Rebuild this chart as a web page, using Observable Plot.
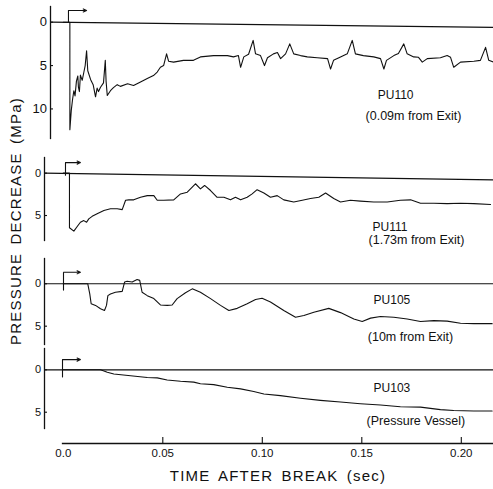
<!DOCTYPE html>
<html><head><meta charset="utf-8">
<script src="https://cdn.jsdelivr.net/npm/d3@7"></script>
<script src="https://cdn.jsdelivr.net/npm/@observablehq/plot@0.6"></script>
<style>
html,body{margin:0;padding:0;background:#fff;}
#chart{position:relative;width:493px;height:489px;overflow:hidden;font-family:"Liberation Sans",Arial,sans-serif;color:#111;}
#chart svg{position:absolute;left:0;background:transparent;}
#ytitle{position:absolute;left:15px;top:221px;transform:translate(-50%,-50%) rotate(-90deg);white-space:nowrap;font-size:15px;letter-spacing:1.2px;word-spacing:3px;color:#111;}
#xtitle{position:absolute;left:278px;top:475px;transform:translate(-50%,-50%);white-space:nowrap;font-size:15px;letter-spacing:1.2px;word-spacing:3px;color:#111;}
</style></head>
<body><div id="chart"></div>
<script>
// ---------- data (time in sec, pressure decrease in MPa) ----------
const sensorNames = ["PU110", "PU111", "PU105", "PU103"];
const sensorLocations = ["(0.09m from Exit)", "(1.73m from Exit)", "(10m from Exit)", "(Pressure Vessel)"];

const pu110Time = [0, 0.0033, 0.0033, 0.0040, 0.0046, 0.0053, 0.0059, 0.0066, 0.0073, 0.0076, 0.0081, 0.0086, 0.0095, 0.0103, 0.0110, 0.0117, 0.0123, 0.0137, 0.0150, 0.0162, 0.0170, 0.0177, 0.0187, 0.0202, 0.0211, 0.0215, 0.0221, 0.0237, 0.0252, 0.0271, 0.0287, 0.0323, 0.0353, 0.0388, 0.0422, 0.0453, 0.0472, 0.0488, 0.0504, 0.0519, 0.0529, 0.0554, 0.0604, 0.0654, 0.0689, 0.0755, 0.0825, 0.0855, 0.0880, 0.0891, 0.0907, 0.0931, 0.0954, 0.0966, 0.0991, 0.1011, 0.1026, 0.1056, 0.1076, 0.1092, 0.1117, 0.1138, 0.1158, 0.1192, 0.1226, 0.1276, 0.1328, 0.1343, 0.1358, 0.1393, 0.1427, 0.1452, 0.1468, 0.1508, 0.1560, 0.1594, 0.1611, 0.1624, 0.1661, 0.1684, 0.1711, 0.1728, 0.1761, 0.1785, 0.1804, 0.1829, 0.1895, 0.1929, 0.1946, 0.1962, 0.1996, 0.2063, 0.2096, 0.2122, 0.2138, 0.2162];
const pu110Decrease = [0, 0, 12.4, 10.2, 9.0, 7.9, 8.5, 6.8, 6.2, 7.5, 8.0, 6.1, 6.7, 5.8, 5.0, 3.3, 5.6, 6.6, 7.2, 8.6, 7.6, 8.0, 7.5, 7.0, 4.4, 6.8, 8.45, 7.9, 7.55, 7.2, 7.4, 7.1, 7.3, 6.9, 6.5, 6.15, 5.75, 5.2, 5.0, 3.65, 4.5, 4.6, 4.4, 4.4, 4.0, 3.85, 3.85, 4.0, 3.85, 5.2, 4.0, 3.7, 2.1, 3.65, 3.85, 5.0, 4.1, 3.65, 3.5, 4.2, 3.65, 2.5, 3.65, 3.85, 4.0, 4.1, 4.2, 5.4, 4.4, 4.0, 3.65, 2.1, 3.65, 3.85, 4.0, 4.2, 5.4, 4.4, 3.85, 3.6, 2.5, 3.65, 4.0, 4.05, 4.6, 4.2, 4.1, 3.85, 4.05, 5.2, 4.6, 4.5, 4.4, 2.9, 4.4, 4.6];

const pu111Time = [0, 0.0031, 0.0031, 0.0053, 0.0070, 0.0086, 0.0103, 0.0117, 0.0128, 0.0145, 0.0170, 0.0204, 0.0237, 0.0271, 0.0296, 0.0313, 0.0329, 0.0354, 0.0388, 0.0422, 0.0455, 0.0472, 0.0505, 0.0555, 0.0589, 0.0623, 0.0648, 0.0664, 0.0689, 0.0710, 0.0740, 0.0773, 0.0807, 0.0840, 0.0865, 0.0891, 0.0924, 0.0949, 0.0974, 0.1008, 0.1041, 0.1075, 0.1108, 0.1158, 0.1201, 0.1242, 0.1284, 0.1318, 0.1359, 0.1393, 0.1443, 0.1493, 0.1560, 0.1628, 0.1694, 0.1745, 0.1795, 0.1862, 0.1929, 0.1996, 0.2063, 0.2147];
const pu111Decrease = [0, 0, 6.45, 6.85, 6.3, 5.8, 5.6, 5.8, 5.4, 5.1, 4.8, 4.4, 4.2, 4.2, 4.3, 3.2, 3.15, 3.15, 2.85, 2.65, 2.65, 3.2, 3.2, 3.15, 2.45, 2.25, 1.65, 1.25, 1.85, 1.45, 2.05, 2.85, 2.85, 3.15, 2.85, 3.15, 2.85, 2.45, 1.95, 2.35, 2.85, 2.65, 3.15, 3.4, 3.2, 3.0, 2.85, 2.35, 3.0, 3.4, 3.2, 3.3, 3.4, 3.4, 3.2, 3.15, 3.55, 3.55, 3.6, 3.55, 3.6, 3.7];

const pu105Time = [0, 0.0123, 0.0133, 0.0140, 0.0162, 0.0187, 0.0207, 0.0217, 0.0224, 0.0237, 0.0262, 0.0296, 0.0308, 0.0321, 0.0346, 0.0371, 0.0384, 0.0396, 0.0422, 0.0455, 0.0488, 0.0522, 0.0547, 0.0572, 0.0614, 0.0648, 0.0689, 0.0740, 0.0790, 0.0832, 0.0874, 0.0924, 0.0966, 0.0999, 0.1041, 0.1108, 0.1167, 0.1209, 0.1259, 0.1334, 0.1393, 0.1460, 0.1502, 0.1544, 0.1594, 0.1661, 0.1728, 0.1795, 0.1862, 0.1929, 0.1996, 0.2063, 0.2155];
const pu105Decrease = [0, 0, 1.2, 2.35, 2.55, 2.95, 3.15, 2.55, 1.4, 1.2, 1.0, 0.9, -0.2, -0.3, -0.2, -0.5, -0.4, 1.0, 1.4, 1.75, 2.5, 2.55, 2.5, 1.75, 1.05, 0.6, 1.0, 1.75, 2.55, 3.15, 2.9, 2.35, 1.85, 1.7, 2.15, 3.15, 3.95, 3.75, 3.35, 2.9, 3.4, 4.15, 4.45, 4.05, 3.85, 3.95, 4.15, 4.45, 4.35, 4.4, 4.65, 4.7, 4.7];

const pu103Time = [0, 0.0187, 0.0221, 0.0254, 0.0338, 0.0422, 0.0472, 0.0522, 0.0589, 0.0656, 0.0689, 0.0756, 0.0824, 0.0891, 0.0957, 0.1008, 0.1091, 0.1192, 0.1292, 0.1393, 0.1493, 0.1594, 0.1694, 0.1795, 0.1895, 0.1962, 0.2063, 0.2155];
const pu103Decrease = [0, 0, 0.3, 0.5, 0.7, 0.9, 0.95, 1.2, 1.35, 1.45, 1.65, 1.75, 2.05, 2.25, 2.55, 2.85, 3.05, 3.35, 3.6, 3.8, 4.0, 4.15, 4.35, 4.4, 4.7, 4.8, 4.85, 4.85];

// zero-line drift at right edge of each record (MPa)
const baselineDrift = [0.6, 0.8, 0, 0];
// break marker: time, top of flag, bottom of flag, arrow tip time
const markerTime = [0.0026, 0.0011, 0.0001, -0.0004];
const markerTop = [-1.35, -1.25, -1.35, -1.2];
const markerBottom = [0, 0.3, 0.8, 0.9];
const markerArrowEnd = [0.0117, 0.0086, 0.0086, 0.0086];

const yTicksPanel1 = [0, 5, 10];
const yTicksOther = [0, 5];
const xTickValues = [0, 0.05, 0.10, 0.15, 0.20];
const xTickLabels = ["0.0", "0.05", "0.10", "0.15", "0.20"];
const xTickMarks = [0.05, 0.10, 0.15, 0.20];
const xTitle = "TIME AFTER BREAK (sec)";
const yTitle = "PRESSURE DECREASE (MPa)";

// ---------- layout ----------
const W = 493;
const X_ZERO_PX = 62.8, PX_PER_SEC = 1990;
const xDomain = ml => [(ml - X_ZERO_PX) / PX_PER_SEC, (W - X_ZERO_PX) / PX_PER_SEC];

const traces = [
  {time: pu110Time, dec: pu110Decrease},
  {time: pu111Time, dec: pu111Decrease},
  {time: pu105Time, dec: pu105Decrease},
  {time: pu103Time, dec: pu103Decrease}
];
const panels = [
  {top: 0,   height: 145, mt: 6, mb: 7,  ml: 50, yd: [-1.81, 13.41], ticks: yTicksPanel1, fs: 13,
   name: [0.158, 8.45], loc: [0.1519, 10.76]},
  {top: 150, height: 100, mt: 7, mb: 10, ml: 44, yd: [-1.85, 7.95], ticks: yTicksOther, fs: 11,
   name: [0.1554, 6.41], loc: [0.1534, 7.9]},
  {top: 252, height: 93,  mt: 6, mb: 1,  ml: 44, yd: [-2.98, 7.16], ticks: yTicksOther, fs: 11,
   name: [0.1559, 1.97], loc: [0.153, 6.33]},
  {top: 346, height: 86,  mt: 2, mb: 4,  ml: 44, yd: [-2.51, 6.92], ticks: yTicksOther, fs: 11,
   name: [0.1559, 2.2], loc: [0.1524, 5.98]}
];

const chart = document.getElementById("chart");

panels.forEach((p, i) => {
  const xd = xDomain(p.ml);
  const rows = traces[i].time.map((t, k) => ({t, d: traces[i].dec[k]}));
  const base = [{t: xd[0], d: 0}, {t: xd[1], d: baselineDrift[i]}];
  const svg = Plot.plot({
    width: W, height: p.height,
    marginTop: p.mt, marginBottom: p.mb, marginLeft: p.ml, marginRight: 0,
    style: {background: "transparent", color: "#111", fontFamily: "Liberation Sans, Arial, sans-serif", overflow: "visible"},
    x: {domain: xd, axis: null},
    y: {domain: p.yd, reverse: true, axis: null},
    marks: [
      Plot.frame({anchor: "left", stroke: "#111", strokeWidth: 1.3}),
      Plot.axisY(p.ticks, {anchor: "left", label: null, tickSize: -3, tickPadding: 6.5, fontSize: p.fs, stroke: "#111", strokeWidth: 1.1}),
      Plot.line(base, {x: "t", y: "d", stroke: "#111", strokeWidth: 1.2}),
      Plot.line(rows, {x: "t", y: "d", stroke: "#111", strokeWidth: 1.1, strokeLinejoin: "round"}),
      Plot.link([i], {x1: () => markerTime[i], x2: () => markerTime[i], y1: () => markerTop[i], y2: () => markerBottom[i], stroke: "#111", strokeWidth: 1.1}),
      Plot.arrow([i], {x1: () => markerTime[i], x2: () => markerArrowEnd[i], y1: () => markerTop[i], y2: () => markerTop[i], stroke: "#111", strokeWidth: 1.1, headLength: 5, headAngle: 50}),
      Plot.text([sensorNames[i]], {x: () => p.name[0], y: () => p.name[1], text: d => d, textAnchor: "start", fontSize: 12, fill: "#111", style: "letter-spacing:1px"}),
      Plot.text([sensorLocations[i]], {x: () => p.loc[0], y: () => p.loc[1], text: d => d, textAnchor: "start", fontSize: 12.5, fill: "#111", style: "letter-spacing:0.5px"})
    ]
  });
  svg.style.top = p.top + "px";
  chart.appendChild(svg);
});

// bottom time axis
{
  const ml = 62;
  const axisSvg = Plot.plot({
    width: W, height: 59, marginTop: 0, marginBottom: 47, marginLeft: ml, marginRight: 0,
    style: {background: "transparent", color: "#111", fontFamily: "Liberation Sans, Arial, sans-serif", overflow: "visible"},
    x: {domain: xDomain(ml), axis: null},
    marks: [
      Plot.frame({anchor: "bottom", stroke: "#111", strokeWidth: 1.3}),
      Plot.axisX(xTickMarks, {anchor: "bottom", label: null, tickSize: -6, text: null, stroke: "#111", strokeWidth: 1.1}),
      Plot.axisX(xTickValues, {anchor: "bottom", label: null, tickSize: 0, tickPadding: 5, fontSize: 11.5,
        tickFormat: v => xTickLabels[xTickValues.indexOf(v)]})
    ]
  });
  axisSvg.style.top = "431px";
  chart.appendChild(axisSvg);
}

const xt = document.createElement("div"); xt.id = "xtitle"; xt.textContent = xTitle; chart.appendChild(xt);
const yt = document.createElement("div"); yt.id = "ytitle"; yt.textContent = yTitle; chart.appendChild(yt);
</script>
</body></html>
